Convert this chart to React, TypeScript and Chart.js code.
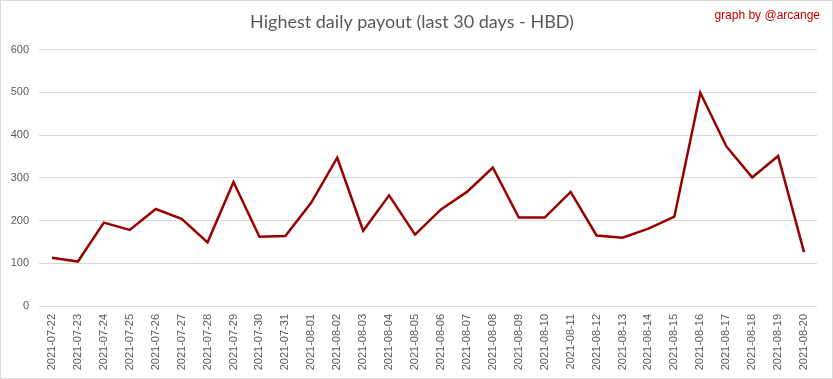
import React, { useEffect, useRef } from "react";
import { Chart, registerables } from "chart.js";

Chart.register(...registerables);

const categories = [
  "2021-07-22", "2021-07-23", "2021-07-24", "2021-07-25", "2021-07-26", "2021-07-27",
  "2021-07-28", "2021-07-29", "2021-07-30", "2021-07-31", "2021-08-01", "2021-08-02",
  "2021-08-03", "2021-08-04", "2021-08-05", "2021-08-06", "2021-08-07", "2021-08-08",
  "2021-08-09", "2021-08-10", "2021-08-11", "2021-08-12", "2021-08-13", "2021-08-14",
  "2021-08-15", "2021-08-16", "2021-08-17", "2021-08-18", "2021-08-19", "2021-08-20",
];

const payouts = [
  113, 104, 195, 178, 227, 204, 149, 290, 162, 164, 242, 347, 176, 259, 167,
  226, 267, 324, 207, 207, 267, 165, 160, 181, 209, 499, 374, 301, 351, 126,
];

const yTicks = [0, 100, 200, 300, 400, 500, 600];

const creditPlugin = {
  id: "credit",
  afterDraw(chart: any) {
    const ctx = chart.ctx;
    ctx.save();
    ctx.font = "12px 'Liberation Sans', Arial, sans-serif";
    ctx.fillStyle = "#c00000";
    ctx.textAlign = "right";
    ctx.textBaseline = "middle";
    ctx.fillText("graph by @arcange", chart.width - 12, 15);
    ctx.restore();
  },
};

export default function App() {
  const ref = useRef<HTMLCanvasElement>(null);
  useEffect(() => {
    if (!ref.current) return;
    const chart = new Chart(ref.current, {
      type: "line",
      data: {
        labels: categories,
        datasets: [
          {
            data: payouts,
            borderColor: "#990000",
            borderWidth: 2.5,
            pointRadius: 0,
            tension: 0,
            fill: false,
          },
        ],
      },
      options: {
        animation: false,
        responsive: false,
        maintainAspectRatio: false,
        layout: { padding: { left: 6, right: 15, top: 4, bottom: 6 } },
        plugins: {
          legend: { display: false },
          tooltip: { enabled: false },
          title: {
            display: true,
            text: "Highest daily payout (last 30 days - HBD)",
            color: "#595959",
            font: { family: "Lato, sans-serif", size: 18, weight: "normal" },
            padding: { top: 6, bottom: 17 },
          },
        },
        scales: {
          x: {
            offset: true,
            grid: { display: false },
            border: { display: false },
            afterFit: (axis: any) => {
              axis.height = 66;
            },
            ticks: {
              color: "#595959",
              font: { family: "'Liberation Sans', Arial, sans-serif", size: 11 },
              maxRotation: 90,
              minRotation: 90,
              autoSkip: false,
              padding: 0,
            },
          },
          y: {
            min: 0,
            max: 600,
            afterBuildTicks: (axis: any) => {
              axis.ticks = yTicks.map((v) => ({ value: v }));
            },
            afterFit: (axis: any) => {
              axis.width = 32;
            },
            grid: { color: "#d9d9d9", drawTicks: false },
            border: { display: false },
            ticks: {
              color: "#595959",
              font: { family: "'Liberation Sans', Arial, sans-serif", size: 11 },
              padding: 10,
            },
          },
        },
      },
      plugins: [creditPlugin],
    });
    return () => chart.destroy();
  }, []);
  return (
    <div
      style={{
        position: "fixed",
        left: 0,
        top: 0,
        width: 833,
        height: 379,
        boxSizing: "border-box",
        border: "1px solid #d9d9d9",
        background: "#fff",
      }}
    >
      <canvas ref={ref} width={831} height={377} style={{ display: "block" }} />
    </div>
  );
}
